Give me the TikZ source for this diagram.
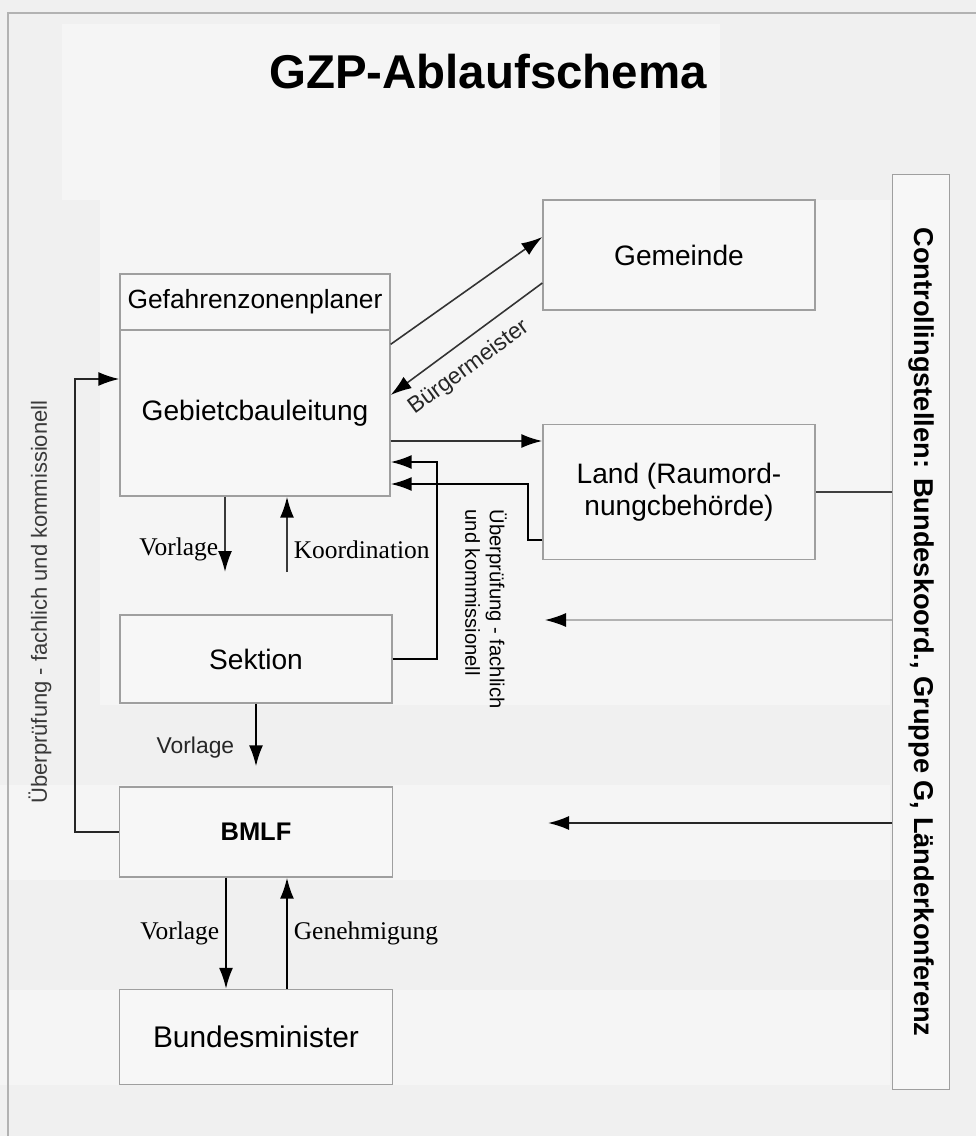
\documentclass[tikz,border=0pt]{standalone}
\usepackage{fontspec}
\setmainfont{Liberation Serif}
\setsansfont{Liberation Sans}
\usetikzlibrary{arrows.meta}

\begin{document}
\begin{tikzpicture}[x=0.02cm, y=-0.02cm,
    box/.style = {draw=gray!75, line width=0.8pt, fill=black!3, align=center,
      inner sep=0pt, font=\sffamily\fontsize{16}{18}\selectfont},
    arr/.style = {line width=1.1pt, -{Latex[length=4.2mm,width=2.8mm,color=black]}},
    lbl/.style = {text=black, font=\fontsize{14.5}{16}\selectfont},
    slbl/.style = {font=\sffamily\fontsize{13}{15}\selectfont, text=gray!30!black}]
  \useasboundingbox (0,0) rectangle (976,1136);
  \fill[black!6] (0,0) rectangle (976,1136);
  \fill[black!4] (62,24) rectangle (720,200);
  \fill[black!4] (100,200) rectangle (890,705);
  \fill[black!4] (0,785) rectangle (890,880);
  \fill[black!4] (0,990) rectangle (890,1085);
  \draw[gray!60, line width=1pt] (8,1136) -- (8,13) -- (976,13);
  \node[font=\sffamily\bfseries\fontsize{27}{30}\selectfont] (title) at (488,72) {GZP-Ablaufschema};

  \node[box, minimum width=5.4cm, minimum height=1.12cm,
    font=\sffamily\fontsize{15}{17}\selectfont] (plan) at (255,302) {Gefahrenzonenplaner};
  \node[box, minimum width=5.4cm, minimum height=3.32cm] (bau) at (255,413) {Gebietcbauleitung};
  \node[box, minimum width=5.44cm, minimum height=2.2cm] (gem) at (679,255) {Gemeinde};
  \node[box, minimum width=5.44cm, minimum height=2.7cm] (land) at (679,492) {Land (Raumord-\\nungcbehörde)};
  \node[box, minimum width=5.44cm, minimum height=1.76cm] (sek) at (256,659) {Sektion};
  \node[box, minimum width=5.46cm, minimum height=1.8cm,
    font=\sffamily\bfseries\fontsize{14.5}{16}\selectfont] (bmlf) at (256,832) {BMLF};
  \node[box, minimum width=5.46cm, minimum height=1.9cm,
    font=\sffamily\fontsize{17}{19}\selectfont] (bm) at (256,1037) {Bundesminister};
  \node[box, rotate=-90, minimum width=18.3cm, minimum height=1.14cm,
    font=\sffamily\bfseries\fontsize{15.5}{17}\selectfont] (ctrl) at (921,632)
    {Controllingstellen: Bundeskoord., Gruppe G, Länderkonferenz};
  \node[rotate=90, font=\sffamily\fontsize{12.5}{14}\selectfont, text=gray!45!black] (ueb) at (40,602)
    {Überprüfung - fachlich und kommissionell};
  \node[rotate=-90, align=left, font=\sffamily\fontsize{11.5}{14}\selectfont] (ueb2) at (486,609)
    {Überprüfung - fachlich\\und kommissionell};

  \coordinate (g1) at ([yshift=-0.56cm]bau.east);
  \coordinate (k1) at (437,462);
  \coordinate (k2) at (528,484);
  \coordinate (k3) at (75,379);
  \coordinate (v1) at (225,572);
  \coordinate (v2) at (287,572);
  \coordinate (c1) at (545,620);
  \coordinate (c2) at (548,823);

  \draw[arr, gray!40!black, line width=0.9pt] ([yshift=-0.3cm]bau.north east) -- ([yshift=0.36cm]gem.west);
  \draw[arr, gray!40!black, line width=0.9pt] ([yshift=-0.56cm]gem.west)
    -- node[sloped, below, slbl, yshift=-4pt, pos=0.58] {Bürgermeister} ([yshift=0.36cm]bau.east);
  \draw[arr, gray!40!black] (g1) -- (g1 -| land.west);
  \draw[arr] (sek.east) -| (k1) -- (k1 -| bau.east);
  \draw[arr] ([yshift=0.4cm]land.south west) -| (k2) -- (k2 -| bau.east);
  \draw[gray!50!black, line width=1pt] (ctrl.south |- land.east) -- (land.east);
  \draw[arr, gray!60, line width=0.7pt] (ctrl.south |- c1) -- (c1);
  \draw[arr, gray!30!black] (ctrl.south |- c2) -- (c2);
  \draw[arr, gray!30!black, line width=1pt] (bmlf.west) -| (k3) -- (k3 -| bau.west);

  \draw[arr, gray!45!black] (v1 |- bau.south) -- node[lbl, left, pos=0.7] {Vorlage} (v1);
  \draw[arr, gray!45!black] (v2) -- node[lbl, right, pos=0.3] {Koordination} (v2 |- bau.south);
  \draw[arr] (sek.south) -- node[slbl, left, pos=0.7, xshift=-0.3cm] {Vorlage} ([yshift=0.4cm]bmlf.north);
  \draw[arr] ([xshift=-0.6cm]bmlf.south) -- node[lbl, left] {Vorlage} ([xshift=-0.6cm]bm.north);
  \draw[arr] ([xshift=0.62cm]bm.north) -- node[lbl, right] {Genehmigung} ([xshift=0.62cm]bmlf.south);
\end{tikzpicture}
\end{document}
